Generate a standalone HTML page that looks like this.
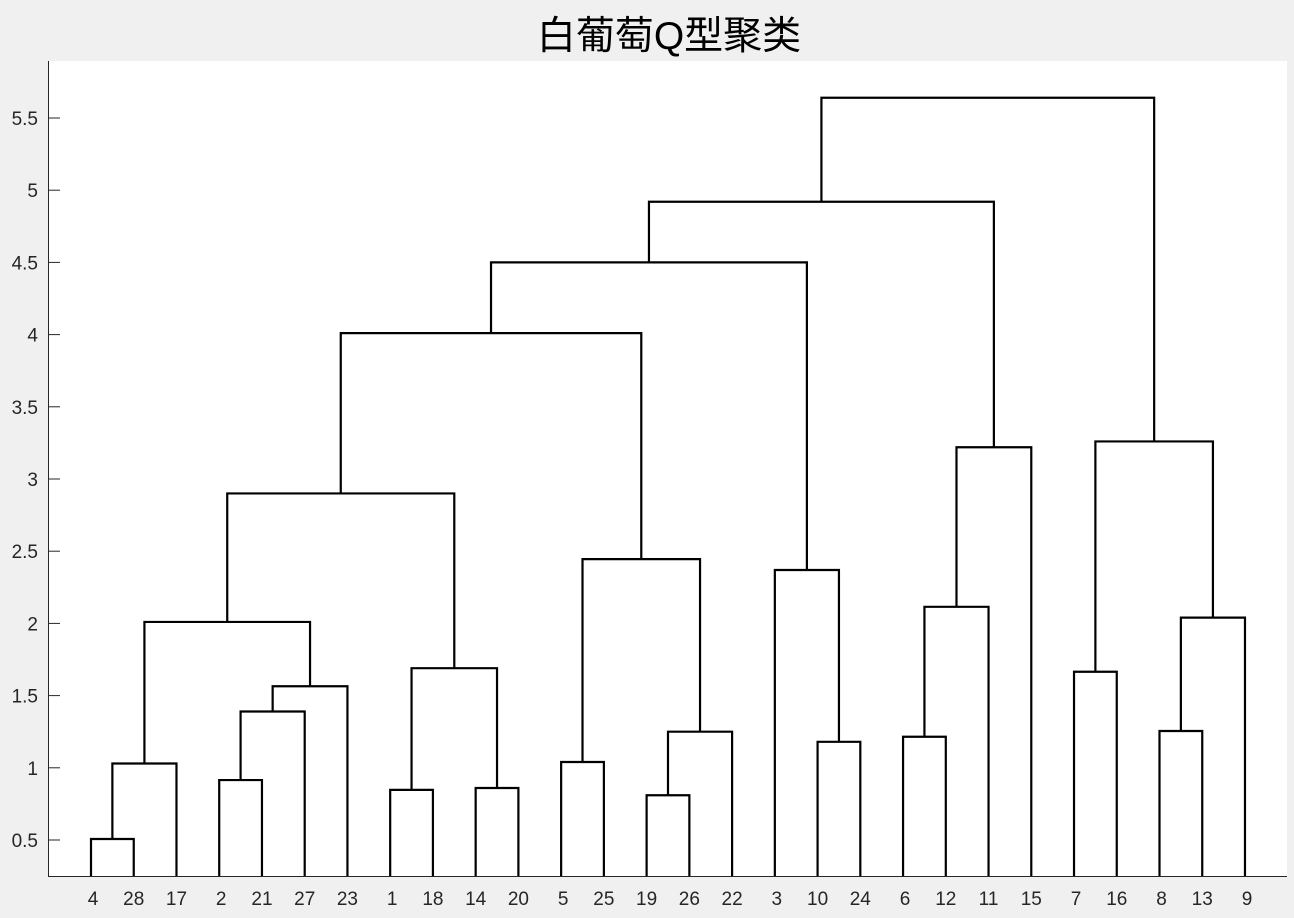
<!DOCTYPE html>
<html><head><meta charset="utf-8"><style>
body{margin:0;background:#f0f0f0;}
svg{display:block;font-family:"Liberation Sans","Noto Sans CJK SC",sans-serif;}
</style></head><body>
<svg id="c" width="1294" height="918">
<rect x="48" y="61" width="1239" height="815" fill="#fff"/>
<text x="669" y="49" font-size="39" text-anchor="middle" fill="#000">白葡萄Q型聚类</text>
<g id="g"></g>
</svg>
<script>
const leafOrder=[4,28,17,2,21,27,23,1,18,14,20,5,25,19,26,22,3,10,24,6,12,11,15,7,16,8,13,9];
const linkA=[4,29,2,31,32,30,1,14,35,34,5,19,40,39,38,10,3,43,6,47,48,46,7,8,52,51,50];
const linkB=[28,17,21,27,23,33,18,20,36,37,25,26,22,41,42,24,44,45,12,11,15,49,16,13,9,53,54];
const linkH=[0.507,1.03,0.915,1.39,1.565,2.01,0.847,0.86,1.69,2.90,1.04,0.81,1.25,2.445,4.01,1.18,2.37,4.50,1.215,2.115,3.22,4.92,1.665,1.255,2.04,3.26,5.64];
const yTicks=[0.5,1,1.5,2,2.5,3,3.5,4,4.5,5,5.5];
const NS='http://www.w3.org/2000/svg';
const g=document.getElementById('g');
const xs=i=>91+i*42.74;
const ys=v=>912.2-v*144.4;
function mk(t,a){const e=document.createElementNS(NS,t);for(const k in a)e.setAttribute(k,a[k]);g.appendChild(e);return e;}
const n=leafOrder.length;
const nx={},ny={};
leafOrder.forEach((l,i)=>{nx[l]=xs(i);ny[l]=ys(0.25);});
linkH.forEach((h,k)=>{
  const a=linkA[k],b=linkB[k],id=n+1+k,y=ys(h);
  const p=mk('path',{d:`M${nx[a]},${ny[a]}V${y}H${nx[b]}V${ny[b]}`,fill:'none',stroke:'#000','stroke-width':2.2});
  
  
  nx[id]=(nx[a]+nx[b])/2;ny[id]=y;
});
leafOrder.forEach((l,i)=>{
  const t=mk('text',{x:xs(i)+(l<10?2:0),y:905,'font-size':19,'text-anchor':'middle',fill:'#262626'});
  t.textContent=l;
  
  
});
yTicks.forEach(v=>{
  const y=ys(v);
  const tk=mk('line',{x1:48,x2:60,y1:y,y2:y,stroke:'#262626','stroke-width':1});
  
  
  const t=mk('text',{x:38,y:y+7,'font-size':19,'text-anchor':'end',fill:'#262626'});
  t.textContent=v;
  
  
});
const ax=mk('path',{d:'M48.5,61V876.5H1287',fill:'none',stroke:'#262626','stroke-width':1});


</script>
</body></html>
